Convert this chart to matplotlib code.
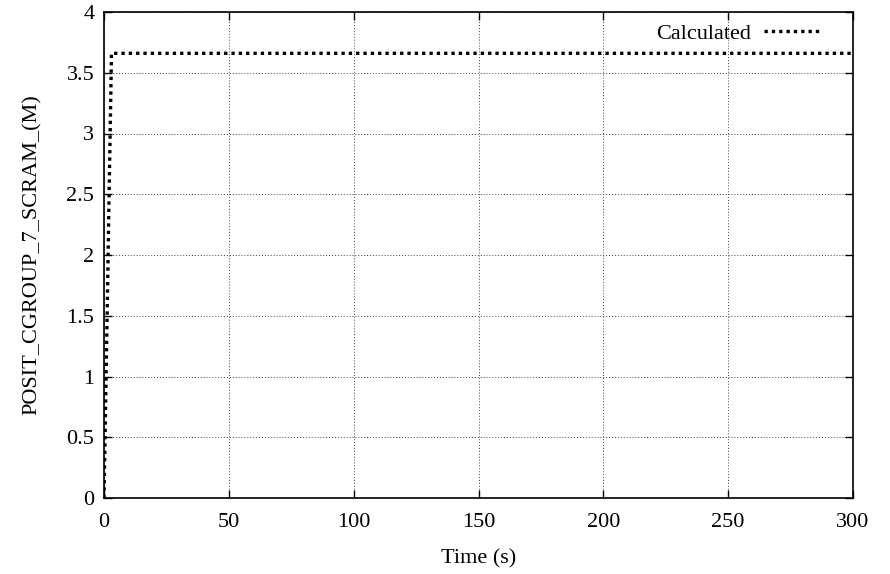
import matplotlib
matplotlib.use("Agg")
import matplotlib.pyplot as plt

time_s = [0.0, 0.5, 1.0, 1.5, 2.0, 2.5, 3.0, 300.0]
posit = [0.0, 0.6, 1.2, 1.8, 2.45, 3.05, 3.66, 3.66]

plt.rcParams['font.family'] = ['Liberation Serif', 'DejaVu Serif']
plt.rcParams['font.size'] = 16

fig = plt.figure(figsize=(8.9, 5.74), dpi=100)
ax = fig.add_axes([104 / 890, 1 - 498 / 574, (853 - 104) / 890, (498 - 12) / 574])

ax.plot(time_s, posit, color='black', linewidth=2.4, linestyle=(0, (1, 1.2)),
        label='Calculated')

ax.set_xlim(0, 300)
ax.set_ylim(0, 4)
ax.set_xticks([0, 50, 100, 150, 200, 250, 300])
ax.set_yticks([0, 0.5, 1, 1.5, 2, 2.5, 3, 3.5, 4])
ax.set_yticklabels(['0', '0.5', '1', '1.5', '2', '2.5', '3', '3.5', '4'])
ax.grid(True, color='#444444', linestyle=(0, (1, 2)), linewidth=0.7)
ax.tick_params(direction='in', top=True, right=True, length=6, width=1, pad=7)
ax.tick_params(axis='x', pad=11)
for s in ax.spines.values():
    s.set_linewidth(1.2)

ax.set_xlabel('Time (s)', labelpad=12)
ax.set_ylabel('POSIT_CGROUP_7_SCRAM_(M)', labelpad=18)

ax.legend(loc='upper right', bbox_to_anchor=(0.979, 1.008), frameon=False,
          markerfirst=False, handlelength=2.6, borderaxespad=0.3, handletextpad=0.6)

fig.savefig('out.png', dpi=100)
